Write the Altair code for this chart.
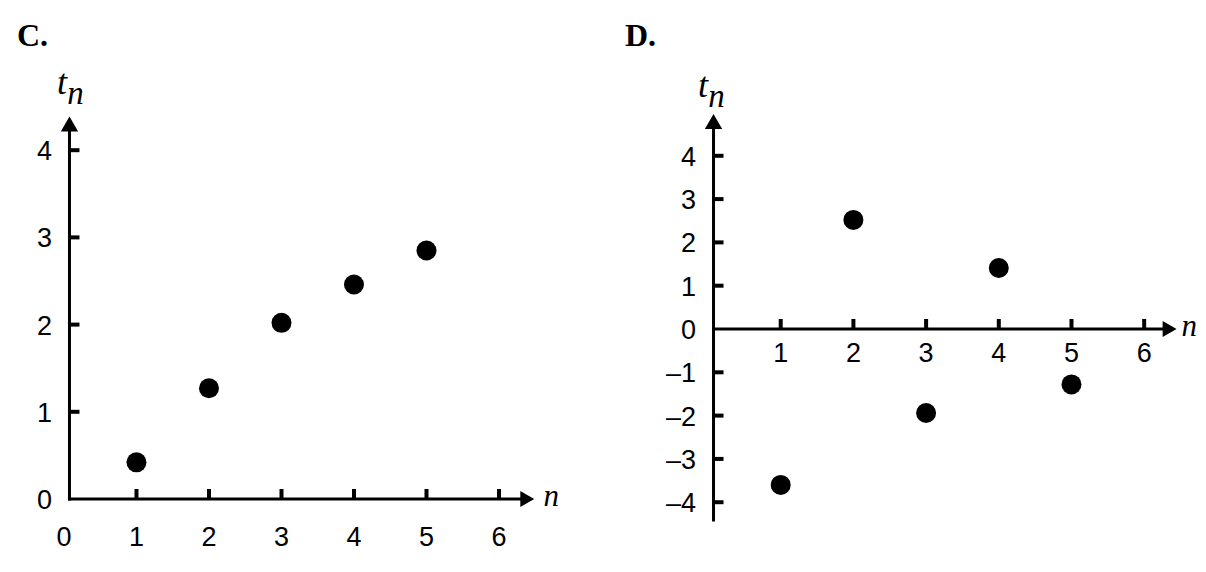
import altair as alt
import pandas as pd

# ---- data ----
N = [1, 2, 3, 4, 5]
C_VALUES = [0.42, 1.27, 2.02, 2.46, 2.85]
D_VALUES = [-3.60, 2.52, -1.94, 1.41, -1.28]

C_X_TICKS = [1, 2, 3, 4, 5, 6]
C_X_LABELS = [0, 1, 2, 3, 4, 5, 6]
C_Y_TICKS = [1, 2, 3, 4]
C_Y_LABELS = [0, 1, 2, 3, 4]

D_X_TICKS = [1, 2, 3, 4, 5, 6]
D_X_LABELS = [1, 2, 3, 4, 5, 6]
D_Y_TICKS = [-4, -3, -2, -1, 1, 2, 3, 4]
D_Y_LABELS = [-4, -3, -2, -1, 0, 1, 2, 3, 4]

# axis extents (data units)
C_X_DOMAIN = [-0.772, 6.924]
C_Y_DOMAIN = [-0.757, 5.0]
D_X_DOMAIN = [-1.486, 6.713]
D_Y_DOMAIN = [-5.450, 6.143]

C_AXIS = dict(x_end=6.39, y_start=0.0, y_end=4.30, n_x=6.72, t_y=4.64)
D_AXIS = dict(x_end=6.35, y_start=-4.41, y_end=4.79, n_x=6.62, t_y=5.35)

BLACK = "#000000"
SANS = "Liberation Sans"
SERIF = "Liberation Serif"
SHIFT = 5.5  # the drawn axis line sits slightly right of n = 0
LABEL_SIZE = 27


def fmt(v):
    return str(v).replace("-", "\u2013")


def panel(title, title_dx, values, xdom, ydom, width, height, x_ticks, x_labels,
          y_ticks, y_labels, ax, xlab_dy, t_dx, n_dx):
    def X(f):
        return alt.X(f, type="quantitative", scale=alt.Scale(domain=xdom, nice=False, zero=False), axis=None)

    def Y(f):
        return alt.Y(f, type="quantitative", scale=alt.Scale(domain=ydom, nice=False, zero=False), axis=None)

    # axis lines
    xaxis = alt.Chart(pd.DataFrame({"x": [0.0], "x2": [ax["x_end"]], "y": [0.0]})).mark_rule(
        color=BLACK, strokeWidth=3, strokeCap="square", xOffset=SHIFT, x2Offset=0
    ).encode(x=X("x"), x2="x2", y=Y("y"))
    yaxis = alt.Chart(pd.DataFrame({"x": [0.0], "y": [ax["y_start"]], "y2": [ax["y_end"]]})).mark_rule(
        color=BLACK, strokeWidth=3, strokeCap="square", xOffset=SHIFT, x2Offset=SHIFT
    ).encode(x=X("x"), y=Y("y"), y2="y2")

    # ticks
    xt = pd.DataFrame({"x": x_ticks, "y": [0.0] * len(x_ticks)})
    xticks = alt.Chart(xt).mark_rule(color=BLACK, strokeWidth=4, y2Offset=-10).encode(
        x=X("x"), y=Y("y"), y2="y")
    yt = pd.DataFrame({"y": y_ticks, "x": [0.0] * len(y_ticks)})
    yticks = alt.Chart(yt).mark_rule(color=BLACK, strokeWidth=4, xOffset=SHIFT, x2Offset=SHIFT + 10).encode(
        y=Y("y"), x=X("x"), x2="x")

    # tick labels
    xl = pd.DataFrame({"x": x_labels, "y": [0.0] * len(x_labels), "t": [fmt(v) for v in x_labels]})
    xlabels = alt.Chart(xl).mark_text(font=SANS, fontSize=LABEL_SIZE, color=BLACK, align="center",
                                      baseline="alphabetic", dy=xlab_dy).encode(
        x=X("x"), y=Y("y"), text="t")
    yl = pd.DataFrame({"y": y_labels, "x": [0.0] * len(y_labels), "t": [fmt(v) for v in y_labels]})
    ylabels = alt.Chart(yl).mark_text(font=SANS, fontSize=LABEL_SIZE, color=BLACK, align="right",
                                      baseline="alphabetic", dx=-12, dy=10).encode(
        x=X("x"), y=Y("y"), text="t")

    # arrows
    xarrow = alt.Chart(pd.DataFrame({"x": [ax["x_end"]], "y": [0.0]})).mark_point(
        shape="triangle-right", size=260, filled=True, color=BLACK, opacity=1, strokeWidth=0
    ).encode(x=X("x"), y=Y("y"))
    yarrow = alt.Chart(pd.DataFrame({"x": [0.0], "y": [ax["y_end"]]})).mark_point(
        shape="triangle-up", size=300, filled=True, color=BLACK, opacity=1, strokeWidth=0, xOffset=SHIFT
    ).encode(x=X("x"), y=Y("y"))

    # axis names
    nlab = alt.Chart(pd.DataFrame({"x": [ax["n_x"]], "y": [0.0], "t": ["n"]})).mark_text(
        font=SERIF, fontStyle="italic", fontSize=31, color=BLACK, align="center", baseline="alphabetic", dy=7
    ).encode(x=X("x"), y=Y("y"), text="t")
    tlab = alt.Chart(pd.DataFrame({"x": [0.0], "y": [ax["t_y"]], "t": ["t"]})).mark_text(
        font=SERIF, fontStyle="italic", fontSize=36, color=BLACK, align="center", baseline="alphabetic", dx=t_dx
    ).encode(x=X("x"), y=Y("y"), text="t")
    tsub = alt.Chart(pd.DataFrame({"x": [0.0], "y": [ax["t_y"]], "t": ["n"]})).mark_text(
        font=SERIF, fontStyle="italic", fontSize=33, color=BLACK, align="center", baseline="alphabetic",
        dx=n_dx, dy=10
    ).encode(x=X("x"), y=Y("y"), text="t")

    # data points
    pts = alt.Chart(pd.DataFrame({"n": N, "t": values})).mark_circle(
        size=400, color=BLACK, opacity=1
    ).encode(x=X("n"), y=Y("t"))

    return alt.layer(xaxis, yaxis, xticks, yticks, xlabels, ylabels, xarrow, yarrow,
                     nlab, tlab, tsub, pts).properties(
        width=width, height=height,
        title=alt.TitleParams(text=title, anchor="start", font=SERIF, fontSize=32, fontWeight="bold",
                              color=BLACK, dx=title_dx, offset=10),
    )


c = panel("C.", 9, C_VALUES, C_X_DOMAIN, C_Y_DOMAIN, 558, 502, C_X_TICKS, C_X_LABELS,
          C_Y_TICKS, C_Y_LABELS, C_AXIS, 47, -2, 11.5)
d = panel("D.", 25, D_VALUES, D_X_DOMAIN, D_Y_DOMAIN, 596, 502, D_X_TICKS, D_X_LABELS,
          D_Y_TICKS, D_Y_LABELS, D_AXIS, 33, -5, 8.5)

chart = alt.hconcat(c, d, spacing=34).properties(
    padding={"left": 0, "top": 12, "right": 0, "bottom": 0},
    background="white",
).configure_view(stroke=None)

chart.save("out.html", embed_options={"renderer": "svg", "actions": False})
